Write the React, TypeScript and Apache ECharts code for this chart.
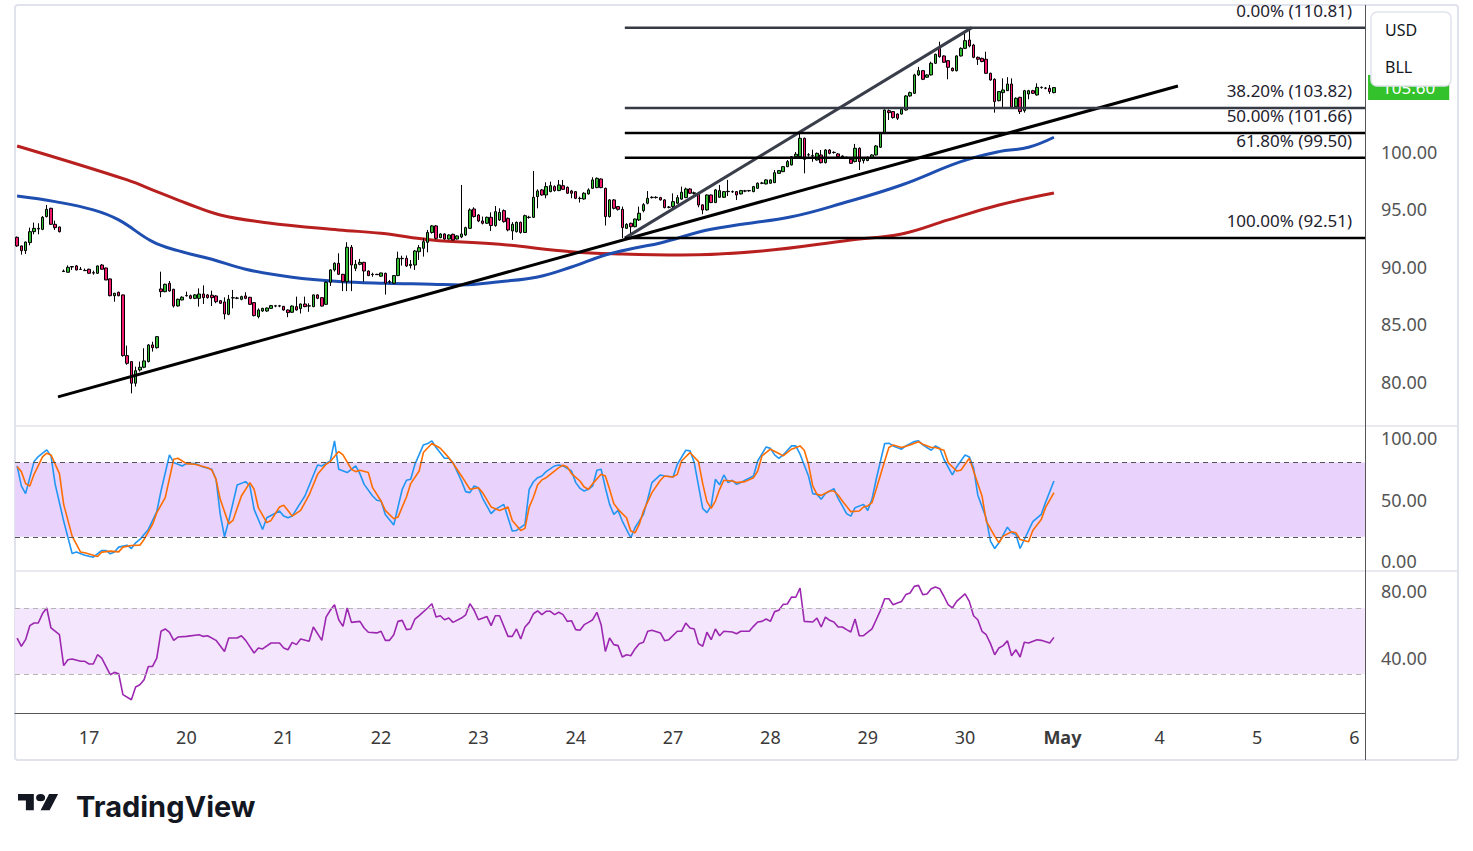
import React, { useEffect, useRef } from "react";
import * as echarts from "echarts";

// ---------- data ----------
const BARS_PER_DAY = 23;
const SLOT_COUNT = 319;
const FIRST_LABEL_SLOT = 17;
const tickLabels = ["17", "20", "21", "22", "23", "24", "27", "28", "29", "30", "May", "4", "5", "6"];

// [open, close, low, high]
const candles: number[][] = [
  [92.58, 91.83, 91.75, 92.65], [91.83, 91.42, 91.07, 91.85], [91.42, 92.17, 91.13, 92.2], [92.12, 93.07, 91.88, 93.42],
  [93.07, 93.36, 92.84, 93.86], [93.3, 93.36, 92.84, 93.8], [93.27, 94.32, 93.2, 94.43], [94.38, 95.01, 94.3, 95.39],
  [95.1, 93.71, 93.65, 95.15], [93.71, 93.42, 93.22, 94.03], [93.48, 93.07, 93.0, 93.5], [89.6, 89.65, 89.57, 89.78],
  [89.54, 89.97, 89.52, 90.14], [90.0, 90.03, 89.74, 90.06], [90.09, 89.74, 89.7, 90.17], [89.8, 89.78, 89.76, 90.0],
  [89.7, 89.68, 89.66, 89.86], [89.8, 89.45, 89.42, 89.85], [89.5, 89.47, 89.33, 89.68], [89.45, 90.09, 89.4, 90.12],
  [90.17, 89.8, 89.78, 90.26], [89.91, 88.87, 88.85, 89.95], [88.96, 87.5, 87.45, 89.0], [87.5, 87.71, 86.98, 87.75],
  [87.8, 87.5, 87.45, 87.85], [87.57, 82.29, 82.2, 87.6], [82.29, 81.62, 81.5, 83.16], [81.77, 79.89, 79.01, 81.8],
  [79.89, 80.98, 79.6, 81.33], [81.04, 81.28, 80.9, 81.77], [81.28, 81.83, 81.2, 82.93], [81.77, 83.22, 81.7, 83.3],
  [83.22, 82.98, 82.64, 83.5], [82.98, 83.94, 82.9, 84.0], [88.09, 87.85, 87.37, 89.59], [87.85, 88.49, 87.8, 88.55],
  [88.58, 87.91, 87.85, 88.78], [88.06, 86.61, 86.47, 88.1], [86.61, 87.19, 86.55, 87.25], [87.13, 87.37, 87.1, 87.45],
  [87.5, 87.52, 87.42, 87.85], [87.5, 87.27, 87.2, 87.6], [87.27, 87.57, 87.2, 87.65], [87.27, 87.65, 86.55, 88.14],
  [87.65, 87.33, 86.78, 88.4], [87.57, 87.33, 87.25, 87.65], [87.54, 87.33, 86.6, 87.94], [87.48, 86.98, 86.85, 87.55],
  [87.07, 86.84, 86.78, 87.1], [86.96, 85.91, 85.45, 87.36], [85.88, 87.19, 85.8, 87.57], [87.3, 87.33, 86.4, 88.0],
  [87.3, 87.28, 87.2, 87.4], [87.19, 87.42, 87.1, 87.5], [87.48, 87.27, 87.2, 87.8], [87.36, 86.75, 86.7, 87.4],
  [86.9, 85.77, 85.7, 86.95], [85.68, 86.26, 85.53, 86.4], [86.17, 86.4, 86.1, 86.45], [86.17, 86.43, 86.1, 86.47],
  [86.4, 86.64, 86.35, 86.7], [86.6, 86.62, 86.5, 86.7], [86.62, 86.6, 86.5, 86.7], [86.58, 86.26, 86.2, 86.6],
  [86.26, 86.03, 85.63, 86.3], [86.06, 86.6, 86.0, 86.65], [86.55, 86.26, 86.2, 87.42], [86.38, 86.78, 85.95, 86.82],
  [86.78, 86.55, 86.5, 87.42], [86.6, 86.62, 86.1, 86.84], [86.55, 87.57, 86.5, 87.6], [87.57, 87.27, 87.2, 87.63],
  [87.33, 86.6, 86.55, 87.38], [86.75, 88.67, 86.7, 88.72], [88.67, 89.74, 88.35, 89.8], [89.74, 90.32, 89.6, 90.4],
  [90.32, 89.36, 89.3, 91.19], [89.36, 88.72, 87.9, 89.4], [88.72, 91.71, 87.9, 92.15], [91.71, 90.17, 87.9, 91.91],
  [89.88, 90.23, 89.65, 90.61], [90.23, 90.4, 90.15, 90.7], [90.4, 89.65, 88.72, 90.45], [89.65, 89.25, 89.2, 89.7],
  [89.33, 89.36, 89.15, 89.5], [89.36, 89.33, 89.3, 89.4], [89.2, 89.48, 89.15, 89.5], [89.45, 88.58, 87.6, 89.5],
  [88.7, 88.73, 88.55, 88.87], [88.58, 89.25, 88.5, 89.3], [89.25, 90.75, 89.2, 91.33], [90.75, 90.72, 90.12, 90.98],
  [90.75, 90.09, 90.0, 91.0], [90.12, 90.23, 89.87, 90.61], [90.17, 91.39, 89.74, 91.48], [91.33, 91.68, 90.61, 91.91],
  [91.62, 92.2, 90.9, 92.49], [92.14, 93.0, 91.27, 93.22], [93.0, 93.57, 92.9, 93.65], [93.57, 92.49, 92.4, 93.65],
  [92.55, 92.87, 92.5, 92.93], [92.87, 92.43, 92.38, 92.93], [92.43, 92.78, 92.38, 92.84], [92.84, 92.35, 92.3, 92.9],
  [92.43, 92.7, 92.38, 92.75], [92.61, 92.87, 92.5, 97.13], [92.78, 93.42, 92.7, 93.5], [93.36, 94.96, 93.3, 95.1],
  [95.04, 94.38, 94.3, 95.19], [94.52, 94.0, 93.9, 94.6], [94.0, 93.8, 93.7, 94.38], [93.8, 94.32, 93.75, 94.38],
  [94.32, 93.6, 93.13, 94.75], [93.6, 94.81, 93.5, 95.3], [94.09, 94.75, 94.0, 95.1], [94.9, 93.94, 93.85, 95.0],
  [94.23, 93.22, 93.1, 94.3], [93.13, 93.71, 92.35, 93.9], [93.07, 93.88, 93.0, 93.95], [93.88, 93.0, 92.9, 93.95],
  [93.0, 94.46, 92.95, 94.55], [94.3, 94.33, 94.2, 94.45], [94.32, 96.06, 94.25, 98.35], [96.12, 96.61, 95.1, 96.75],
  [96.7, 96.26, 96.2, 96.78], [96.26, 96.99, 95.97, 97.36], [96.55, 97.07, 96.5, 97.42], [96.99, 96.64, 96.55, 97.1],
  [96.64, 97.13, 96.6, 97.57], [97.07, 96.75, 96.7, 97.57], [96.93, 96.41, 96.35, 97.0], [96.61, 96.41, 95.97, 96.7],
  [96.55, 95.97, 95.9, 96.6], [95.97, 95.95, 95.6, 96.12], [95.91, 96.41, 95.85, 96.5], [96.35, 96.7, 96.3, 96.84],
  [96.84, 97.57, 96.8, 97.8], [96.9, 97.71, 96.85, 97.78], [97.65, 96.9, 96.85, 97.7], [96.84, 94.38, 93.6, 96.9],
  [94.38, 95.83, 94.3, 95.9], [95.83, 95.1, 95.0, 95.9], [95.25, 95.01, 94.9, 95.3], [95.01, 93.42, 92.51, 95.25],
  [93.36, 93.71, 93.3, 93.8], [93.8, 93.5, 92.72, 93.85], [93.5, 94.17, 93.45, 94.2], [94.09, 94.67, 94.0, 95.25],
  [94.9, 95.42, 94.75, 95.55], [95.54, 95.97, 95.45, 96.6], [96.03, 96.06, 95.95, 96.15], [96.06, 96.03, 95.95, 96.15],
  [96.03, 95.83, 95.78, 96.1], [95.83, 95.16, 95.1, 95.9], [95.19, 95.2, 95.1, 95.3], [95.25, 95.68, 95.0, 96.4],
  [95.54, 96.03, 95.5, 96.26], [95.9, 96.5, 95.85, 96.99], [96.03, 96.78, 96.0, 96.9], [96.78, 96.41, 96.35, 96.85],
  [96.4, 96.45, 96.3, 96.55], [96.41, 95.39, 95.19, 96.5], [95.4, 94.96, 94.58, 95.45], [94.96, 96.26, 94.9, 96.3],
  [96.26, 95.6, 95.55, 96.3], [95.6, 96.7, 95.55, 96.78], [96.06, 96.64, 96.0, 97.13], [96.06, 96.55, 96.0, 96.6],
  [96.55, 96.58, 96.17, 97.57], [96.55, 96.53, 96.45, 96.65], [96.55, 96.26, 95.82, 96.6], [96.35, 96.64, 96.3, 96.7],
  [96.6, 96.62, 96.5, 96.7], [96.64, 96.62, 96.55, 96.7], [96.55, 96.99, 96.5, 97.05], [96.84, 97.28, 96.8, 97.35],
  [97.28, 97.3, 97.2, 97.4], [97.22, 97.57, 97.18, 97.62], [97.28, 97.57, 97.25, 97.62], [97.33, 98.2, 97.3, 98.43],
  [98.14, 98.38, 98.1, 98.43], [98.29, 98.72, 98.25, 98.78], [98.72, 99.16, 98.68, 99.3], [98.87, 99.59, 98.83, 99.65],
  [99.59, 99.8, 99.55, 100.0], [99.59, 101.19, 99.55, 101.77], [101.19, 99.36, 98.14, 101.25], [99.74, 99.76, 99.6, 99.9],
  [99.65, 99.68, 99.15, 100.2], [99.3, 99.88, 99.25, 99.95], [99.74, 99.07, 99.0, 100.17], [99.07, 100.17, 99.0, 100.25],
  [100.17, 99.88, 99.8, 100.25], [99.97, 99.95, 99.85, 100.05], [99.83, 99.59, 99.5, 99.9], [99.65, 99.54, 99.45, 99.7],
  [99.54, 99.52, 99.45, 99.6], [99.36, 99.01, 98.95, 99.4], [99.16, 100.32, 99.1, 100.7], [100.32, 99.16, 98.43, 100.4],
  [99.25, 99.45, 99.0, 99.5], [99.25, 99.54, 99.2, 99.6], [99.45, 99.74, 99.4, 99.8], [99.74, 100.52, 99.7, 100.6],
  [100.41, 101.62, 100.35, 101.7], [101.62, 103.65, 101.55, 103.7], [103.59, 103.42, 102.78, 103.7], [103.51, 102.99, 102.9, 103.55],
  [103.3, 102.93, 102.78, 103.35], [103.3, 103.71, 103.25, 103.78], [103.65, 104.87, 103.6, 104.95], [104.87, 105.16, 104.8, 105.25],
  [105.1, 106.7, 105.05, 106.8], [106.7, 107.07, 106.6, 107.4], [107.07, 106.32, 106.25, 107.12], [106.5, 106.7, 106.45, 106.75],
  [106.7, 107.71, 106.65, 107.85], [107.71, 108.49, 107.65, 108.55], [109.01, 108.29, 108.2, 109.59], [108.35, 107.8, 107.75, 108.4],
  [107.94, 107.36, 106.32, 108.0], [107.28, 107.07, 107.0, 107.35], [107.07, 108.35, 107.0, 108.4], [108.35, 109.01, 108.3, 109.1],
  [109.01, 109.68, 108.95, 110.4], [109.74, 109.22, 109.1, 110.81], [109.3, 108.23, 108.15, 109.4], [108.23, 108.06, 107.57, 108.3],
  [108.14, 107.86, 107.8, 108.2], [108.06, 106.84, 106.8, 108.72], [106.84, 106.26, 106.2, 106.9], [106.32, 104.38, 103.42, 106.4],
  [104.46, 105.25, 104.4, 105.3], [105.16, 105.39, 103.8, 106.4], [105.33, 105.91, 105.3, 106.5], [105.91, 103.88, 103.8, 106.4],
  [103.94, 104.67, 103.9, 104.75], [104.75, 103.51, 103.3, 104.8], [103.59, 105.33, 103.42, 105.4], [105.04, 105.33, 104.58, 105.4],
  [105.33, 105.1, 105.05, 105.4], [104.96, 105.62, 104.9, 105.97], [105.62, 105.6, 105.5, 105.7], [105.54, 105.56, 105.45, 105.65],
  [105.54, 105.25, 105.05, 105.83], [105.16, 105.6, 105.1, 105.65],
];

// moving averages, read at [bar, value]
const maFast = [
  [0, 96.17], [9, 95.68], [18, 94.96], [24, 94.09], [32, 92.2], [38, 91.42], [46, 90.67], [54, 89.8], [65, 89.1],
  [76, 88.73], [87, 88.58], [98, 88.5], [105, 88.43], [114, 88.72], [123, 89.13], [131, 90.0], [139, 91.04],
  [146, 91.65], [152, 92.09], [164, 93.28], [183, 94.37], [195, 95.54], [209, 97.13], [223, 99.16], [232, 100.03],
  [239, 100.41], [245, 101.28],
];
const maSlow = [
  [0, 100.52], [26, 97.57], [33, 96.55], [40, 95.54], [48, 94.52], [59, 93.85], [76, 93.22], [86, 92.93], [98, 92.35],
  [114, 91.97], [131, 91.33], [143, 91.13], [157, 91.04], [176, 91.39], [197, 92.35], [209, 92.87], [220, 94.09],
  [232, 95.39], [245, 96.43],
];

const stochK = [
  [0, 77.3], [1, 61.1], [2, 54.9], [4, 80.8], [5, 84.9], [7, 90.3], [8, 85.4], [9, 62.4], [11, 32.7], [13, 6.5], [14, 7.6],
  [16, 5.1], [18, 3.5], [20, 8.9], [21, 8.9], [22, 6.2], [23, 7.6], [24, 11.6], [26, 13.2], [27, 10.5], [28, 15.1], [29, 17.8],
  [31, 25.9], [33, 40.3], [34, 57.0], [36, 86.2], [37, 80.0], [39, 77.3], [40, 79.2], [42, 79.2], [44, 76.5], [46, 74.6],
  [47, 66.5], [48, 38.1], [49, 20.0], [50, 32.7], [52, 61.9], [54, 64.6], [55, 61.1], [56, 42.2], [58, 25.9], [59, 35.4],
  [62, 40.8], [63, 36.7], [64, 35.4], [65, 36.7], [67, 47.6], [68, 53.0], [71, 78.1], [72, 77.3], [74, 81.3], [75, 97.6],
  [76, 74.6], [78, 71.9], [80, 77.3], [81, 71.1], [82, 62.4], [84, 53.0], [85, 49.5], [86, 48.9], [87, 38.1], [89, 29.5],
  [91, 58.4], [92, 65.7], [93, 66.5], [94, 78.6], [96, 94.3], [97, 95.4], [98, 97.6], [99, 92.2], [101, 83.5], [102, 83.5],
  [103, 80.0], [105, 65.1], [106, 56.5], [107, 55.7], [108, 61.1], [109, 59.7], [110, 51.1], [112, 38.7], [113, 42.2],
  [115, 46.2], [117, 24.6], [118, 25.1], [120, 30.0], [121, 58.4], [122, 64.5], [123, 67.8], [124, 69.2], [125, 72.7],
  [127, 77.3], [128, 78.1], [129, 77.3], [131, 73.2], [132, 63.8], [133, 59.2], [134, 57.0], [135, 58.4], [136, 61.1],
  [137, 73.8], [138, 74.6], [139, 59.7], [140, 46.2], [141, 38.1], [142, 41.3], [143, 32.7], [145, 19.2], [146, 27.3],
  [148, 38.1], [149, 50.3], [150, 63.8], [152, 70.0], [153, 69.2], [155, 68.4], [156, 78.6], [158, 90.0], [159, 89.5],
  [160, 80.0], [162, 42.9], [163, 39.5], [164, 44.9], [165, 66.5], [166, 62.0], [167, 70.0], [168, 63.8], [169, 65.7],
  [170, 62.4], [171, 63.8], [172, 65.7], [174, 69.2], [175, 81.3], [177, 92.7], [178, 91.5], [179, 86.2], [180, 83.5],
  [181, 86.2], [183, 93.5], [184, 93.5], [185, 86.8], [187, 69.2], [188, 54.9], [189, 54.3], [190, 50.3], [191, 54.9],
  [193, 58.9], [194, 51.1], [195, 44.9], [196, 38.7], [197, 36.7], [198, 43.5], [200, 46.2], [201, 41.3], [202, 50.3],
  [203, 66.5], [205, 95.4], [206, 95.7], [207, 93.5], [209, 90.8], [210, 93.5], [212, 97.0], [213, 97.6], [214, 94.3],
  [216, 90.0], [217, 93.5], [218, 91.6], [219, 82.7], [221, 70.0], [222, 76.5], [224, 86.2], [225, 84.6], [226, 75.9],
  [227, 53.8], [229, 34.9], [230, 16.5], [231, 10.5], [232, 15.1], [234, 27.8], [235, 23.2], [236, 21.9], [237, 10.5],
  [238, 17.8], [240, 32.2], [242, 38.1], [243, 47.6], [245, 65.1],
];
const stochD = [
  [0, 76.8], [1, 72.7], [2, 63.0], [3, 61.1], [4, 70.5], [6, 84.6], [7, 87.6], [8, 86.2], [10, 71.1], [11, 46.2], [13, 20.5],
  [15, 7.6], [16, 7.0], [19, 4.0], [20, 7.6], [22, 8.4], [24, 7.8], [25, 11.6], [27, 12.9], [29, 13.2], [30, 17.8], [32, 30.0],
  [33, 39.5], [35, 51.6], [37, 82.7], [38, 83.5], [40, 79.2], [42, 78.6], [45, 75.9], [46, 74.0], [47, 66.5], [48, 50.3],
  [50, 30.5], [51, 33.2], [53, 53.0], [55, 63.8], [56, 58.4], [57, 43.5], [59, 31.4], [60, 33.2], [62, 44.1], [63, 45.4],
  [64, 41.3], [65, 36.7], [67, 41.3], [69, 53.8], [71, 70.5], [73, 78.6], [74, 80.8], [76, 88.9], [77, 86.2], [79, 74.6],
  [80, 72.7], [81, 73.8], [83, 71.9], [84, 59.7], [86, 48.9], [87, 41.3], [89, 34.6], [90, 35.9], [92, 52.2], [93, 63.0],
  [95, 73.2], [96, 88.1], [98, 95.4], [100, 91.6], [102, 84.0], [103, 79.5], [105, 69.2], [107, 58.4], [109, 59.7],
  [110, 55.7], [112, 44.1], [114, 41.3], [116, 44.1], [117, 33.2], [119, 25.1], [120, 26.8], [121, 44.0], [122, 52.0],
  [123, 62.0], [124, 66.0], [125, 67.8], [126, 70.5], [128, 75.9], [129, 77.8], [130, 76.5], [131, 71.1], [133, 65.1],
  [134, 60.3], [135, 58.4], [136, 63.0], [138, 70.5], [139, 69.2], [140, 58.4], [141, 46.8], [142, 42.2], [144, 35.4],
  [145, 24.6], [146, 23.2], [147, 30.0], [148, 40.8], [150, 55.7], [152, 65.7], [153, 69.2], [155, 68.4], [156, 70.5],
  [157, 81.3], [159, 88.1], [161, 80.8], [162, 63.0], [163, 48.4], [164, 43.0], [165, 48.9], [166, 58.4], [167, 65.7],
  [169, 65.1], [170, 63.8], [172, 64.6], [174, 67.8], [175, 73.2], [176, 85.4], [178, 90.8], [180, 87.3], [181, 85.4],
  [183, 90.8], [185, 93.5], [186, 90.0], [187, 78.6], [188, 61.1], [189, 54.3], [190, 53.5], [192, 57.0], [193, 57.0],
  [194, 53.8], [195, 48.9], [197, 40.3], [199, 40.8], [200, 44.1], [201, 44.9], [202, 47.6], [203, 58.4], [205, 81.3],
  [206, 92.2], [207, 94.3], [209, 92.2], [211, 94.3], [213, 96.8], [214, 94.9], [216, 92.2], [217, 92.2], [219, 90.0],
  [220, 80.0], [222, 73.2], [223, 73.8], [225, 83.5], [226, 73.2], [228, 53.0], [229, 32.7], [231, 20.5], [232, 15.1],
  [233, 20.5], [235, 24.0], [236, 23.2], [237, 17.8], [239, 15.9], [240, 25.1], [242, 34.0], [243, 43.5], [245, 55.7],
];
const rsiLine = [
  [0, 51.8], [1, 46.8], [2, 50.8], [3, 59.3], [4, 60.9], [5, 60.9], [6, 66.6], [7, 70.0], [8, 57.9], [10, 53.8], [11, 35.1],
  [12, 38.7], [13, 39.1], [15, 37.7], [16, 37.7], [17, 36.1], [18, 36.1], [19, 41.7], [20, 39.7], [21, 34.6], [22, 29.6],
  [23, 31.0], [24, 30.2], [25, 17.5], [27, 14.4], [28, 22.1], [29, 23.5], [30, 26.6], [31, 34.6], [32, 34.6], [33, 39.7],
  [34, 55.9], [35, 57.3], [36, 55.3], [37, 50.4], [38, 52.4], [40, 52.8], [43, 53.8], [44, 52.8], [45, 53.2], [47, 50.4],
  [49, 43.7], [50, 51.8], [52, 51.8], [53, 53.2], [54, 50.4], [56, 42.7], [57, 45.8], [58, 45.2], [60, 48.8], [62, 48.8],
  [63, 45.8], [64, 44.7], [65, 49.2], [66, 47.8], [67, 51.2], [69, 49.8], [70, 58.5], [72, 50.4], [73, 64.5], [74, 68.6],
  [75, 72.0], [76, 62.9], [77, 58.9], [78, 70.0], [79, 61.3], [81, 61.9], [82, 57.9], [83, 55.3], [85, 54.9], [86, 55.9],
  [87, 50.4], [88, 50.4], [89, 53.8], [90, 61.9], [91, 62.5], [92, 56.9], [93, 57.3], [94, 63.3], [95, 65.4], [97, 70.0],
  [98, 72.6], [99, 64.5], [100, 65.3], [101, 62.9], [102, 63.9], [103, 61.3], [105, 63.9], [106, 65.9], [107, 72.6],
  [108, 68.6], [109, 62.9], [111, 64.9], [112, 59.3], [113, 65.3], [114, 65.3], [116, 52.8], [117, 52.8], [118, 57.3],
  [119, 51.2], [120, 58.5], [121, 61.3], [122, 66.5], [123, 68.3], [124, 66.0], [125, 68.0], [126, 68.0], [127, 66.0],
  [128, 67.4], [129, 66.0], [130, 61.9], [131, 62.3], [132, 56.9], [133, 56.5], [134, 59.9], [135, 61.3], [136, 62.9],
  [137, 67.4], [138, 59.9], [139, 43.7], [140, 51.8], [141, 47.8], [142, 47.2], [143, 40.3], [144, 41.7], [145, 41.1],
  [146, 45.2], [147, 48.4], [148, 49.2], [149, 55.9], [150, 56.5], [152, 54.9], [153, 50.2], [154, 50.8], [156, 55.9],
  [157, 55.9], [158, 60.9], [159, 57.9], [160, 57.3], [161, 48.4], [162, 46.8], [163, 55.3], [164, 50.8], [165, 57.3],
  [166, 53.2], [167, 55.9], [169, 55.5], [170, 54.4], [171, 55.9], [173, 55.9], [174, 58.9], [175, 61.5], [176, 61.9],
  [177, 63.3], [178, 61.9], [179, 67.8], [180, 68.6], [181, 72.2], [182, 72.4], [183, 76.7], [184, 76.5], [185, 82.1],
  [186, 61.9], [188, 61.5], [189, 63.9], [190, 58.5], [191, 64.5], [192, 62.5], [193, 61.5], [194, 58.5], [195, 58.5],
  [196, 56.9], [197, 55.5], [198, 63.3], [199, 53.2], [200, 53.2], [202, 57.3], [203, 62.9], [204, 68.6], [205, 75.6],
  [206, 75.6], [207, 72.0], [208, 73.0], [209, 74.0], [210, 78.1], [211, 79.1], [212, 83.1], [213, 83.7], [214, 78.1],
  [215, 78.5], [216, 81.7], [217, 82.7], [218, 81.7], [219, 77.1], [220, 72.0], [221, 70.0], [222, 74.0], [224, 78.5],
  [225, 74.0], [226, 65.3], [227, 62.9], [228, 55.9], [229, 53.8], [230, 48.4], [231, 41.7], [232, 45.8], [233, 47.2],
  [234, 50.2], [235, 41.1], [236, 44.7], [237, 40.3], [238, 49.2], [239, 48.8], [241, 50.8], [242, 50.4], [244, 48.8],
  [245, 52.2],
];

const fibRatios = ["0.00%", "38.20%", "50.00%", "61.80%", "100.00%"];
const fibPrices = [110.81, 103.82, 101.66, 99.5, 92.51];
const fibAnchorBar = 143.6;
const trendLine = [[9.66, 78.7], [274.3, 105.74]];
const wedgeLine = [[143.6, 92.51], [225.6, 110.81]];

const priceTicks = [80, 85, 90, 95, 100];
const stochTicks = [0, 50, 100];
const rsiTicks = [40, 80];
const stochBand = [20, 80];
const rsiBand = [30, 70];
const legendItems = ["USD", "BLL"];

// ---------- logo shape ----------
const TV_LOGO = "M14 22H7V11H0V4h14v18zM28 22h-8l7.5-18h8L28 22zM24 8a4 4 0 1 1-8 0a4 4 0 1 1 8 0z";
echarts.graphic.registerShape("tvlogo", echarts.graphic.extendPath(TV_LOGO, {}));

const FONT = '"Noto Sans", sans-serif';

function buildOption() {
  const categories = Array.from({ length: SLOT_COUNT }, (_, i) => {
    const k = (i - FIRST_LABEL_SLOT) / BARS_PER_DAY;
    return i >= FIRST_LABEL_SLOT && Number.isInteger(k) && k < tickLabels.length ? tickLabels[k] : "";
  });
  const lastClose = candles[candles.length - 1][1];
  const hiddenCat = (gridIndex: number) => ({
    type: "category", gridIndex, data: categories,
    axisLine: { show: false }, axisTick: { show: false }, axisLabel: { show: false }, splitLine: { show: false },
  });
  const yBase = {
    type: "value", position: "right",
    axisLine: { show: false }, axisTick: { show: false }, splitLine: { show: false },
  };
  const lineBase = { type: "line", showSymbol: false, symbol: "none", silent: true };

  const fibSeries = fibPrices.map((p, i) => ({
    type: "line", xAxisIndex: 3, yAxisIndex: 0, silent: true, z: 5,
    symbol: "circle", symbolSize: 0.1, showSymbol: true,
    lineStyle: { color: i < 2 ? "#363a45" : "#000000", width: 2.5 },
    itemStyle: { color: i < 2 ? "#363a45" : "#000000" },
    data: [
      { value: [fibAnchorBar, p], label: { show: false } },
      {
        value: [SLOT_COUNT - 0.5, p],
        label: {
          show: true, position: "top", align: "right", distance: 9, offset: [-13, 0],
          formatter: `${fibRatios[i]} (${p.toFixed(2)})`,
          color: "#1e222d", fontSize: 17, fontFamily: FONT,
        },
      },
    ],
  }));

  return {
    animation: false,
    textStyle: { fontFamily: FONT },
    grid: [
      { left: 15, width: 1350, top: 5, height: 421 },
      { left: 15, width: 1350, top: 426, height: 145 },
      { left: 15, width: 1350, top: 571, height: 142 },
    ],
    xAxis: [
      hiddenCat(0),
      hiddenCat(1),
      {
        type: "category", gridIndex: 2, data: categories,
        axisLine: { show: true, lineStyle: { color: "#555555", width: 1 } },
        axisTick: { show: false }, splitLine: { show: false },
        axisLabel: {
          show: true, interval: (_i: number, v: string) => v !== "",
          color: "#3a3a3a", fontSize: 18, margin: 15,
          formatter: (v: string) => (v === "May" ? "{b|May}" : v),
          rich: { b: { fontWeight: "bold", fontSize: 18, color: "#3a3a3a", fontFamily: FONT } },
        },
      },
      { type: "value", gridIndex: 0, min: -0.5, max: SLOT_COUNT - 0.5, show: false },
    ],
    yAxis: [
      {
        ...yBase, gridIndex: 0, min: 76.17, max: 112.78,
        axisLabel: { customValues: priceTicks, formatter: (v: number) => v.toFixed(2), color: "#555555", fontSize: 18, margin: 16 },
      },
      {
        ...yBase, gridIndex: 1, min: -7.7, max: 109.6,
        axisLabel: { customValues: stochTicks, formatter: (v: number) => v.toFixed(2), color: "#555555", fontSize: 18, margin: 16 },
      },
      {
        ...yBase, gridIndex: 2, min: 6.4, max: 92.4,
        axisLabel: { customValues: rsiTicks, formatter: (v: number) => v.toFixed(2), color: "#555555", fontSize: 18, margin: 16 },
      },
    ],
    series: [
      { ...lineBase, xAxisIndex: 0, yAxisIndex: 0, data: maSlow, smooth: 0.4, lineStyle: { color: "#b8201f", width: 3 }, z: 2 },
      { ...lineBase, xAxisIndex: 0, yAxisIndex: 0, data: maFast, smooth: 0.4, lineStyle: { color: "#1d4eb0", width: 3 }, z: 2 },
      {
        type: "candlestick", xAxisIndex: 0, yAxisIndex: 0, data: candles, barWidth: 3, z: 3, silent: true,
        itemStyle: {
          color: "#33bb33", color0: "#f2196d", borderColor: "#000000", borderColor0: "#000000",
          borderColorDoji: "#000000", borderWidth: 1,
        },
      },
      { ...lineBase, xAxisIndex: 3, yAxisIndex: 0, data: trendLine, lineStyle: { color: "#000000", width: 3 }, z: 5 },
      { ...lineBase, xAxisIndex: 3, yAxisIndex: 0, data: wedgeLine, lineStyle: { color: "#3a3e4a", width: 3 }, z: 5 },
      ...fibSeries,
      {
        // last-price label in the price scale
        type: "line", xAxisIndex: 3, yAxisIndex: 0, silent: true, z: 20,
        symbol: "circle", symbolSize: 0.1, showSymbol: true,
        lineStyle: { opacity: 0 }, itemStyle: { color: "#34c22c" },
        data: [{
          value: [SLOT_COUNT - 0.5, lastClose],
          label: {
            show: true, position: "right", distance: 3, formatter: lastClose.toFixed(2),
            color: "#ffffff", backgroundColor: "#34c22c", fontSize: 17, padding: [4, 14, 4, 14], fontFamily: FONT,
          },
        }],
      },
      {
        ...lineBase, xAxisIndex: 1, yAxisIndex: 1, data: stochK, lineStyle: { color: "#2196f3", width: 1.6 }, z: 4,
        markArea: {
          silent: true, itemStyle: { color: "#e9d2fc" },
          data: [[{ yAxis: stochBand[0] }, { yAxis: stochBand[1] }]],
        },
        markLine: {
          silent: true, symbol: ["none", "none"], label: { show: false },
          lineStyle: { color: "#555555", width: 1, type: [5, 4] },
          data: [{ yAxis: stochBand[0] }, { yAxis: stochBand[1] }],
        },
      },
      { ...lineBase, xAxisIndex: 1, yAxisIndex: 1, data: stochD, lineStyle: { color: "#ff6d00", width: 1.6 }, z: 4 },
      {
        ...lineBase, xAxisIndex: 2, yAxisIndex: 2, data: rsiLine, lineStyle: { color: "#9c27b0", width: 1.6 }, z: 4,
        markArea: {
          silent: true, itemStyle: { color: "#f4e7fd" },
          data: [[{ yAxis: rsiBand[0] }, { yAxis: rsiBand[1] }]],
        },
        markLine: {
          silent: true, symbol: ["none", "none"], label: { show: false },
          lineStyle: { color: "#b5b5b5", width: 1, type: [5, 4] },
          data: [{ yAxis: rsiBand[0] }, { yAxis: rsiBand[1] }],
        },
      },
    ],
    graphic: [
      {
        type: "rect", silent: true, z: 0,
        shape: { x: 15, y: 5, width: 1443, height: 755, r: 3 },
        style: { fill: "none", stroke: "#e0e3eb", lineWidth: 2 },
      },
      { type: "line", silent: true, z: 1, shape: { x1: 15, y1: 426, x2: 1458, y2: 426 }, style: { stroke: "#e0e3eb", lineWidth: 1.5 } },
      { type: "line", silent: true, z: 1, shape: { x1: 15, y1: 571, x2: 1458, y2: 571 }, style: { stroke: "#e0e3eb", lineWidth: 1.5 } },
      { type: "line", silent: true, z: 10, shape: { x1: 1365.5, y1: 5, x2: 1365.5, y2: 760 }, style: { stroke: "#555555", lineWidth: 1 } },
      {
        type: "group", z: 100, silent: true,
        children: [
          {
            type: "rect", z: 100, shape: { x: 1371, y: 12, width: 80, height: 74, r: 6 },
            style: { fill: "#ffffff", stroke: "#e0e3eb", lineWidth: 1.5 },
          },
          ...legendItems.map((t, i) => ({
            type: "text", z: 101, x: 1385, y: 30 + i * 37,
            style: { text: t, fill: "#131722", font: `16px ${FONT}`, textVerticalAlign: "middle", verticalAlign: "middle" },
          })),
        ],
      },
      {
        type: "tvlogo", silent: true, x: 18, y: 790.5, scaleX: 1.13, scaleY: 0.9,
        style: { fill: "#131722" },
      },
      {
        type: "text", silent: true, x: 76, y: 806,
        style: { text: "TradingView", fill: "#131722", font: `700 29px Inter, ${FONT}`, verticalAlign: "middle", textVerticalAlign: "middle" },
      },
    ],
  };
}

export default function App() {
  const ref = useRef<HTMLDivElement>(null);
  useEffect(() => {
    if (!ref.current) return;
    const chart = echarts.init(ref.current, null, { renderer: "svg" });
    chart.setOption(buildOption() as any);
    return () => chart.dispose();
  }, []);
  return (
    <div
      ref={ref}
      style={{ position: "fixed", left: 0, top: 0, width: 1473, height: 851, background: "#ffffff" }}
    />
  );
}
